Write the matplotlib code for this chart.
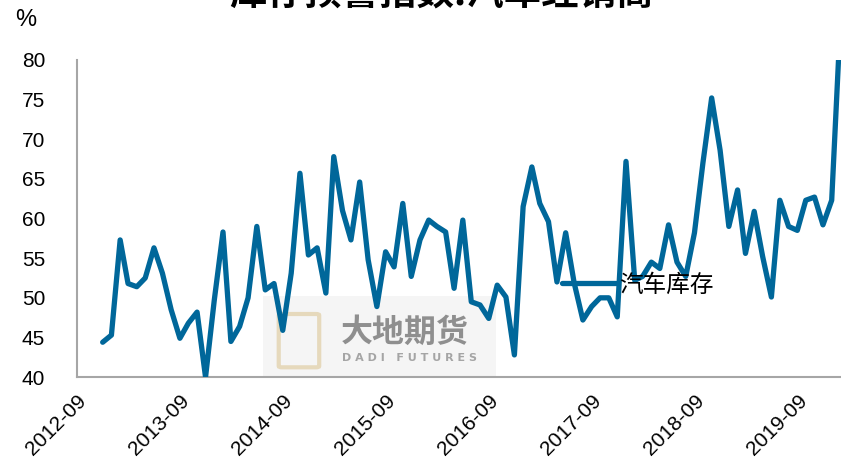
import matplotlib
matplotlib.use("Agg")
import matplotlib.pyplot as plt
from matplotlib.patches import Rectangle, FancyBboxPatch
import numpy as np
import pandas as pd

plt.rcParams['font.family'] = ['Liberation Sans', 'DejaVu Sans']

# 库存预警指数:汽车经销商, 月度 (2012-12 ~ 2020-02)
start_month = '2012-12'
stock_index = [44.4, 45.3, 57.3, 51.8, 51.4, 52.5, 56.3, 53.1, 48.5, 44.9,
               46.8, 48.2, 40.0, 49.7, 58.3, 44.5, 46.4, 50.0, 59.0, 51.0,
               51.8, 45.9, 53.1, 65.7, 55.4, 56.3, 50.6, 67.8, 61.0, 57.3,
               64.6, 54.8, 48.9, 55.8, 53.9, 61.9, 52.7, 57.3, 59.8, 59.0,
               58.3, 51.2, 59.8, 49.5, 49.1, 47.4, 51.6, 50.1, 42.8, 61.5,
               66.5, 61.9, 59.6, 52.0, 58.2, 51.9, 47.2, 48.9, 50.0, 50.0,
               47.6, 67.2, 52.2, 52.7, 54.5, 53.7, 59.2, 54.5, 52.7, 58.2,
               67.0, 75.2, 68.6, 59.0, 63.6, 55.6, 60.9, 55.2, 50.1, 62.3,
               59.0, 58.5, 62.3, 62.7, 59.2, 62.3, 85.0]
dates = pd.date_range(start_month, periods=len(stock_index), freq='MS')

tick_labels = ['2012-09', '2013-09', '2014-09', '2015-09', '2016-09',
               '2017-09', '2018-09', '2019-09']
tick_dates = pd.to_datetime(tick_labels)
y_ticks = [40, 45, 50, 55, 60, 65, 70, 75, 80]

fig = plt.figure(figsize=(8.41, 4.75), dpi=100)
ax = fig.add_axes([0.0916, 0.206, 0.9084, 0.668])

# 水印
ax.add_patch(Rectangle((0.243, 0.005), 0.305, 0.25, transform=ax.transAxes,
                       facecolor='#f5f5f5', edgecolor='none', zorder=0))
ax.text(0.345, 0.14, '大地期货', transform=ax.transAxes, fontsize=23,
        color='#8f8f8f', fontweight='bold', va='center', ha='left',
        family=['Noto Sans CJK SC'], zorder=1)
ax.text(0.347, 0.06, 'D A D I   F U T U R E S', transform=ax.transAxes, fontsize=8,
        color='#a5a5a5', fontweight='bold', va='center', ha='left',
        family=['DejaVu Sans'], zorder=1)
ax.add_patch(FancyBboxPatch((0.268, 0.035), 0.045, 0.16, transform=ax.transAxes,
                            boxstyle='round,pad=0.004', facecolor='none',
                            edgecolor='#e6d9bc', lw=3, zorder=1))

ax.plot(dates, stock_index, color='#00679a', lw=3.8,
        solid_joinstyle='round', solid_capstyle='round', zorder=3,
        label='汽车库存')

ax.set_ylim(40, 80)
ax.set_yticks(y_ticks)
ax.set_xlim(pd.Timestamp('2012-09-01'), pd.Timestamp('2020-02-03'))
ax.set_xticks(tick_dates)
ax.set_xticklabels(tick_labels, rotation=45, ha='right', va='top',
                   rotation_mode='anchor')
ax.tick_params(axis='both', length=0, labelsize=15)
ax.tick_params(axis='y', pad=23)
ax.tick_params(axis='x', pad=10)

for s in ['top', 'right']:
    ax.spines[s].set_visible(False)
for s in ['left', 'bottom']:
    ax.spines[s].set_color('#a6a6a6')
    ax.spines[s].set_linewidth(1.5)

leg = ax.legend(loc='center left', bbox_to_anchor=(0.607, 0.29), frameon=False,
                handlelength=2.3, handletextpad=0.1,
                prop={'family': ['Noto Sans CJK SC'], 'size': 17})

fig.text(0.018, 0.957, '%', fontsize=17, ha='left', va='center')
fig.text(0.525, 1.015, '库存预警指数:汽车经销商', fontsize=27, fontweight='bold',
         ha='center', va='center', family=['Noto Sans CJK SC', 'DejaVu Sans'])

fig.savefig('out.png', dpi=100)
